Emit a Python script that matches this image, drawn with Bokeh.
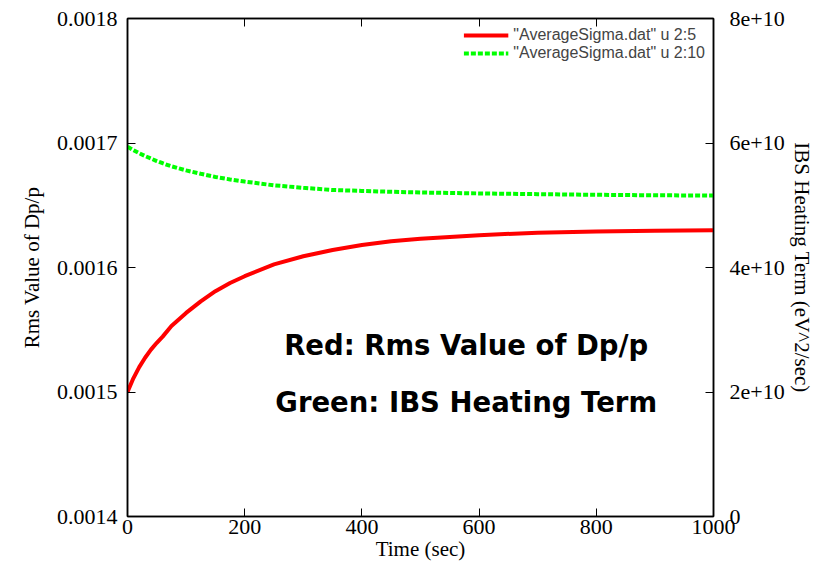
from bokeh.plotting import figure
from bokeh.models import Range1d, LinearAxis, FixedTicker, Legend, LegendItem, Label
from bokeh.embed import file_html
from bokeh.resources import INLINE

time_s = [0, 10, 20, 30, 40, 50, 60, 75, 100, 125, 150, 175, 200, 250, 300, 350, 400, 450,
          500, 600, 700, 800, 900, 1000]
rms_dpp = [0.0015, 0.001511, 0.00152, 0.0015275, 0.001534, 0.0015395, 0.0015445, 0.001553,
           0.0015635, 0.0015728, 0.001581, 0.0015875, 0.001593, 0.0016025, 0.001609, 0.001614,
           0.001618, 0.001621, 0.001623, 0.001626, 0.001628, 0.001629, 0.0016295, 0.00163]
ibs_heating = [5.94e10, 5.885e10, 5.835e10, 5.79e10, 5.75e10, 5.71e10, 5.675e10, 5.625e10,
               5.56e10, 5.505e10, 5.455e10, 5.415e10, 5.38e10, 5.32e10, 5.28e10, 5.245e10,
               5.23e10, 5.216e10, 5.205e10, 5.19e10, 5.178e10, 5.168e10, 5.16e10, 5.156e10]

x_ticks = [0, 200, 400, 600, 800, 1000]
y_ticks = [0.0014, 0.0015, 0.0016, 0.0017, 0.0018]
y_tick_labels = ["0.0014", "0.0015", "0.0016", "0.0017", "0.0018"]
y2_ticks = [0, 2e10, 4e10, 6e10, 8e10]
y2_tick_labels = ["0", "2e+10", "4e+10", "6e+10", "8e+10"]

legend_labels = ['"AverageSigma.dat" u 2:5', '"AverageSigma.dat" u 2:10']
note_lines = ["Red: Rms Value of Dp/p", "Green: IBS Heating Term"]
note_x = 578
note_y = [0.0015374, 0.0014917]

SERIF = "Liberation Serif"
TICK_FS = "22px"
LABEL_FS = "21px"

p = figure(width=823, height=566, output_backend="svg", toolbar_location=None,
           x_range=Range1d(0, 1000), y_range=Range1d(0.0014, 0.0018),
           min_border_left=127, min_border_right=110, min_border_top=18, min_border_bottom=50)
p.extra_y_ranges = {"y2": Range1d(0, 8e10)}

p.grid.visible = False
p.outline_line_color = "black"
p.outline_line_width = 1.5
p.background_fill_color = "white"
p.border_fill_color = "white"

def style_axis(ax, ticks, overrides=None):
    ax.ticker = FixedTicker(ticks=ticks)
    if overrides:
        ax.major_label_overrides = overrides
    ax.major_tick_in = 8
    ax.major_tick_out = 0
    ax.minor_tick_line_color = None
    ax.axis_line_color = "black"
    ax.axis_line_width = 1.5
    ax.major_tick_line_color = "black"
    ax.major_tick_line_width = 1
    ax.major_label_text_font = SERIF
    ax.major_label_text_font_size = TICK_FS
    ax.major_label_text_color = "black"
    ax.axis_label_text_font = SERIF
    ax.axis_label_text_font_size = LABEL_FS
    ax.axis_label_text_font_style = "normal"
    ax.axis_label_text_color = "black"

xa = p.xaxis[0]
style_axis(xa, x_ticks, {v: str(v) for v in x_ticks})
xa.axis_label = "Time (sec)"
xa.major_label_standoff = 3
xa.axis_label_standoff = 0

ya = p.yaxis[0]
style_axis(ya, y_ticks, dict(zip(y_ticks, y_tick_labels)))
ya.axis_label = "Rms Value of Dp/p"
ya.major_label_standoff = 10
ya.axis_label_standoff = 10

y2 = LinearAxis(y_range_name="y2")
style_axis(y2, y2_ticks, dict(zip(y2_ticks, y2_tick_labels)))
y2.axis_label = "IBS Heating Term (eV^2/sec)"
y2.major_label_standoff = 16
y2.axis_label_standoff = 2
p.add_layout(y2, "right")

top = LinearAxis()
style_axis(top, x_ticks)
top.major_label_text_color = None
top.major_label_standoff = 0
p.add_layout(top, "above")

r_red = p.line(time_s, rms_dpp, line_color="#ff0000", line_width=4)
r_green = p.line(time_s, ibs_heating, y_range_name="y2", line_color="#00ff00",
                 line_width=4, line_dash="5 2")

legend = Legend(items=[LegendItem(label=legend_labels[0], renderers=[r_red]),
                       LegendItem(label=legend_labels[1], renderers=[r_green])],
                location="top_right")
legend.border_line_color = None
legend.background_fill_alpha = 0
legend.label_text_font = "Liberation Sans"
legend.label_text_font_size = "16px"
legend.glyph_width = 45
legend.glyph_height = 16
legend.label_height = 16
legend.spacing = 0
legend.padding = 0
legend.margin = 8
p.add_layout(legend)

for txt, yy in zip(note_lines, note_y):
    p.add_layout(Label(x=note_x, y=yy, text=txt, text_align="center", text_baseline="middle",
                       text_font="DejaVu Sans", text_font_style="bold", text_font_size="27.5px",
                       text_color="black"))

open("out.html", "w").write(file_html(p, INLINE))
